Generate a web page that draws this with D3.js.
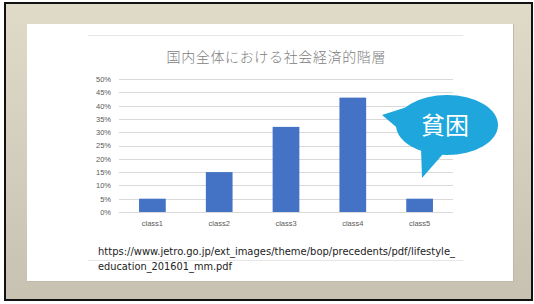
<!DOCTYPE html>
<html>
<head>
<meta charset="utf-8">
<script src="https://cdn.jsdelivr.net/npm/d3@7"></script>
<style>
  body { margin: 0; background: #fff; }
  svg { display: block; }
</style>
</head>
<body>
<div id="chart"></div>
<script>
// chart values
const categories = ["class1", "class2", "class3", "class4", "class5"];
const shares = [5, 15, 32, 43, 5];          // percent
const yTicks = [0, 5, 10, 15, 20, 25, 30, 35, 40, 45, 50];
const title = "国内全体における社会経済的階層";
const calloutText = "貧困";
const sourceLines = [
    "https://www.jetro.go.jp/ext_images/theme/bop/precedents/pdf/lifestyle_",
    "education_201601_mm.pdf"
];

const width = 534, height = 304;
const plot = {left: 119, right: 453, top: 79, bottom: 212};

let svg = d3.select("#chart")
    .append("svg")
    .attr("width", width)
    .attr("height", height);

/* slide frame */
let defs = svg.append("defs");
let grad = defs.append("linearGradient")
    .attr("id", "bg")
    .attr("x1", 0).attr("y1", 0).attr("x2", 0).attr("y2", 1);
grad.append("stop").attr("offset", "0%").attr("stop-color", "#e0dbc9");
grad.append("stop").attr("offset", "100%").attr("stop-color", "#c6c1b1");

svg.append("rect")
    .attr("x", 5).attr("y", 3)
    .attr("width", 527).attr("height", 297)
    .attr("fill", "url(#bg)")
    .attr("stroke", "#111")
    .attr("stroke-width", 2);

// shadow then white panel
svg.append("rect")
    .attr("x", 27).attr("y", 24)
    .attr("width", 487).attr("height", 258)
    .attr("fill", "#bdb8a8");
svg.append("rect")
    .attr("x", 27).attr("y", 24)
    .attr("width", 486).attr("height", 257)
    .attr("fill", "#fff");

// faint separator lines
svg.append("line")
    .attr("x1", 88).attr("x2", 463)
    .attr("y1", 35.5).attr("y2", 35.5)
    .attr("stroke", "#e6e6e6");
svg.append("line")
    .attr("x1", 88).attr("x2", 463)
    .attr("y1", 260.5).attr("y2", 260.5)
    .attr("stroke", "#e6e6e6");

// chart title
svg.append("text")
    .attr("x", 276)
    .attr("y", 62)
    .style("text-anchor", "middle")
    .style("font-family", "'Noto Sans CJK JP', sans-serif")
    .style("font-weight", 300)
    .style("font-size", "14px")
    .style("fill", "#808080")
    .attr("textLength", 219)
    .text(title);

/* scales */
let x = d3.scaleBand()
    .domain(categories)
    .range([plot.left, plot.right])
    .paddingInner(0.6)
    .paddingOuter(0.3);

let y = d3.scaleLinear()
    .domain([0, 50])
    .range([plot.bottom, plot.top]);

// gridlines
svg.append("g")
    .attr("transform", `translate(${plot.left}, 0)`)
    .call(d3.axisLeft(y)
        .tickValues(yTicks)
        .tickSize(-(plot.right - plot.left))
        .tickFormat(d => d + "%"))
    .call(g => g.select(".domain").remove())
    .call(g => g.selectAll(".tick line")
        .attr("stroke", "#d9d9d9")
        .attr("shape-rendering", "crispEdges"))
    .call(g => g.selectAll(".tick text")
        .attr("x", -8)
        .style("font-family", "'Liberation Sans', Arial, sans-serif")
        .style("font-size", "7.5px")
        .style("fill", "#595959"));

// bars
svg.selectAll("rect.bar")
    .data(categories)
    .enter()
    .append("rect")
    .attr("class", "bar")
    .attr("fill", "#4472c4")
    .attr("x", d => x(d))
    .attr("y", (d, i) => y(shares[i]))
    .attr("width", x.bandwidth())
    .attr("height", (d, i) => y(0) - y(shares[i]));

// category labels
svg.append("g")
    .attr("transform", `translate(0, ${plot.bottom})`)
    .call(d3.axisBottom(x).tickSize(0).tickPadding(9))
    .call(g => g.select(".domain").remove())
    .call(g => g.selectAll(".tick text")
        .style("font-family", "'Liberation Sans', Arial, sans-serif")
        .style("font-size", "7.5px")
        .style("fill", "#595959"));

/* speech bubble */
let cx = 447, cy = 125, rx = 51, ry = 30;
let bubble = d3.path();
bubble.moveTo(cx - 40, cy - 18);
bubble.lineTo(382, 115);
bubble.lineTo(cx - 46, cy + 6);
bubble.closePath();
bubble.moveTo(cx - 26, cy + 22);
bubble.lineTo(422, 178);
bubble.lineTo(cx - 4, cy + 29);
bubble.closePath();
svg.append("path")
    .attr("d", bubble.toString())
    .attr("fill", "#1ea6dd");
svg.append("ellipse")
    .attr("cx", cx).attr("cy", cy)
    .attr("rx", rx).attr("ry", ry)
    .attr("fill", "#1ea6dd");
svg.append("text")
    .attr("x", 445)
    .attr("y", 134)
    .style("text-anchor", "middle")
    .style("font-family", "'Noto Sans CJK JP', sans-serif")
    .style("font-size", "24px")
    .style("fill", "#fff")
    .text(calloutText);

/* source url */
svg.selectAll("text.src")
    .data(sourceLines)
    .enter()
    .append("text")
    .attr("class", "src")
    .attr("x", 98)
    .attr("y", (d, i) => 255 + i * 15)
    .style("font-family", "'DejaVu Sans', sans-serif")
    .style("font-size", "10px")
    .style("fill", "#222")
    .attr("textLength", (d, i) => i == 0 ? 357 : 134)
    .attr("lengthAdjust", "spacingAndGlyphs")
    .text(d => d);
</script>
</body>
</html>
